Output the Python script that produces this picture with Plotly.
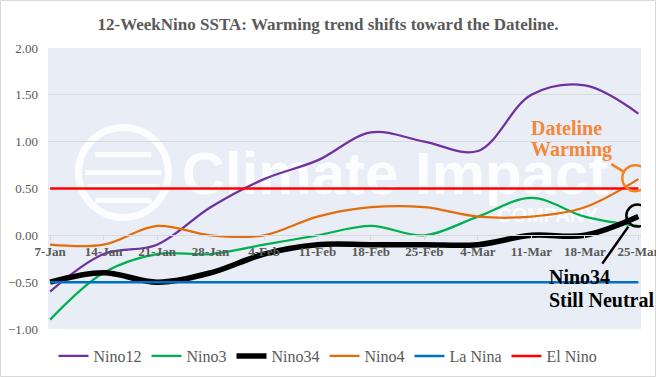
import plotly.graph_objects as go

weeks = ["7-Jan", "14-Jan", "21-Jan", "28-Jan", "4-Feb", "11-Feb", "18-Feb",
         "25-Feb", "4-Mar", "11-Mar", "18-Mar", "25-Mar"]
nino12 = [-0.6, -0.2, -0.1, 0.3, 0.6, 0.8, 1.1, 1.0, 0.9, 1.5, 1.6, 1.3]
nino3 = [-0.9, -0.4, -0.2, -0.2, -0.1, 0.0, 0.1, 0.0, 0.2, 0.4, 0.2, 0.1]
nino34 = [-0.5, -0.4, -0.5, -0.4, -0.2, -0.1, -0.1, -0.1, -0.1, 0.0, 0.0, 0.2]
nino4 = [-0.1, -0.1, 0.1, 0.0, 0.0, 0.2, 0.3, 0.3, 0.2, 0.2, 0.3, 0.6]
la_nina = [-0.5] * len(weeks)
el_nino = [0.5] * len(weeks)
y_ticks = [-1.0, -0.5, 0.0, 0.5, 1.0, 1.5, 2.0]

xi = list(range(len(weeks)))
SERIF = "Liberation Serif"
GRAY = "#595959"
ORANGE_TXT = "#F5873A"
WM = "rgba(255,255,255,0.85)"

fig = go.Figure()

# watermark (drawn first, behind the data lines)
fig.add_trace(go.Scatter(
    x=[6.45], y=[0.6], mode="text", text=["<b>Climate Impact</b>"],
    textfont=dict(family="Liberation Sans", size=60, color=WM),
    textposition="middle center", showlegend=False, hoverinfo="skip"))
fig.add_trace(go.Scatter(
    x=[9.3], y=[0.2], mode="text", text=["<b>COMPANY</b>"],
    textfont=dict(family="Liberation Sans", size=20, color=WM),
    textposition="middle center", showlegend=False, hoverinfo="skip"))

series = [
    ("Nino12", nino12, "#7030A0", 2.25),
    ("Nino3", nino3, "#00B050", 2.25),
    ("Nino34", nino34, "#000000", 5.5),
    ("Nino4", nino4, "#E46C0A", 2.25),
    ("La Nina", la_nina, "#0070C0", 2.5),
    ("El Nino", el_nino, "#FF0000", 2.5),
]
for name, vals, col, w in series:
    fig.add_trace(go.Scatter(
        x=xi, y=vals, name=name, mode="lines",
        line=dict(color=col, width=w, shape="spline", smoothing=1.0),
        hoverinfo="x+y+name"))

shapes = []
# outer border of the chart
shapes.append(dict(type="rect", xref="paper", yref="paper",
                   x0=(0.5 - 48) / 593, x1=(655.5 - 48) / 593,
                   y0=(329 - 376.5) / 281, y1=(329 - 0.5) / 281,
                   line=dict(color="#D9D9D9", width=1), layer="below"))
# watermark globe logo
shapes.append(dict(type="circle", xref="x", yref="y", xsizemode="pixel", ysizemode="pixel",
                   xanchor=1.37, yanchor=0.67, x0=-45, x1=45, y0=-45, y1=45,
                   line=dict(color=WM, width=7), layer="below"))
for dy, half in [(18, 28), (0, 38), (-14, 36), (-28, 28)]:
    shapes.append(dict(type="line", xref="x", yref="y", xsizemode="pixel", ysizemode="pixel",
                       xanchor=1.37, yanchor=0.67, x0=-half, x1=half, y0=dy, y1=dy,
                       line=dict(color=WM, width=5), layer="below"))

# highlight circles at the last points
last = len(weeks) - 1
shapes.append(dict(type="circle", xref="x", yref="y", xsizemode="pixel", ysizemode="pixel",
                   xanchor=last, yanchor=nino4[-1], x0=-16, x1=10, y0=-12, y1=14,
                   line=dict(color="#F58220", width=2.5)))
shapes.append(dict(type="line", xref="x", yref="y", xsizemode="pixel", ysizemode="pixel",
                   xanchor=last, yanchor=nino4[-1], x0=-27, y0=15, x1=-14, y1=7,
                   line=dict(color="#F58220", width=2.5)))
shapes.append(dict(type="circle", xref="x", yref="y", xsizemode="pixel", ysizemode="pixel",
                   xanchor=last, yanchor=nino34[-1], x0=-12, x1=10, y0=-10, y1=12,
                   line=dict(color="#000000", width=2.5)))
shapes.append(dict(type="line", xref="x", yref="y", xsizemode="pixel", ysizemode="pixel",
                   xanchor=last, yanchor=nino34[-1], x0=-36, y0=-47, x1=-10, y1=-10,
                   line=dict(color="#000000", width=2.5)))

annotations = [
    dict(x=8.96, y=1.15, xref="x", yref="y", text="<b>Dateline</b>", showarrow=False,
         xanchor="left", yanchor="middle", font=dict(family=SERIF, size=20, color=ORANGE_TXT)),
    dict(x=8.96, y=0.915, xref="x", yref="y", text="<b>Warming</b>", showarrow=False,
         xanchor="left", yanchor="middle", font=dict(family=SERIF, size=20, color=ORANGE_TXT)),
    dict(x=9.3, y=-0.44, xref="x", yref="y", text="<b>Nino34</b>", showarrow=False,
         xanchor="left", yanchor="middle", font=dict(family=SERIF, size=20, color="#000000")),
    dict(x=9.3, y=-0.69, xref="x", yref="y", text="<b>Still Neutral</b>", showarrow=False,
         xanchor="left", yanchor="middle", font=dict(family=SERIF, size=20, color="#000000")),
]

fig.update_layout(
    width=656, height=377, autosize=False,
    margin=dict(l=48, r=15, t=48, b=48, autoexpand=False),
    paper_bgcolor="white", plot_bgcolor="#E9EEF6",
    title=dict(text="<b>12-WeekNino SSTA: Warming trend shifts toward the Dateline.</b>",
               x=0.5, xref="container", xanchor="center",
               y=1 - 24 / 377, yref="container", yanchor="middle",
               font=dict(family=SERIF, size=17, color=GRAY)),
    xaxis=dict(tickmode="array", tickvals=xi, ticktext=[f"<b>{w}</b>" for w in weeks],
               range=[-0.04, 11.05], showgrid=False, zeroline=False,
               anchor="free", position=1 / 3, automargin=False,
               ticklabeloverflow="allow",
               showline=True, linecolor="#D9D9D9", linewidth=1,
               ticks="outside", ticklen=4, tickcolor="#D9D9D9",
               tickfont=dict(family=SERIF, size=13, color=GRAY), tickangle=0),
    yaxis=dict(range=[-1, 2], tickvals=y_ticks, tickformat=".2f", automargin=False,
               showgrid=True, gridcolor="#D9D9D9", gridwidth=1, zeroline=False,
               ticks="", ticklabelstandoff=9,
               tickfont=dict(family=SERIF, size=13, color=GRAY)),
    legend=dict(orientation="h", xref="container", x=0.5, xanchor="center",
                yref="container", y=1 - 356 / 377, yanchor="middle",
                font=dict(family=SERIF, size=16, color=GRAY), itemwidth=30,
                bgcolor="rgba(0,0,0,0)"),
    shapes=shapes, annotations=annotations,
)

fig.write_html("out.html", config={"displayModeBar": False},
               post_script="document.body.style.margin='0';document.body.style.overflow='hidden';")
